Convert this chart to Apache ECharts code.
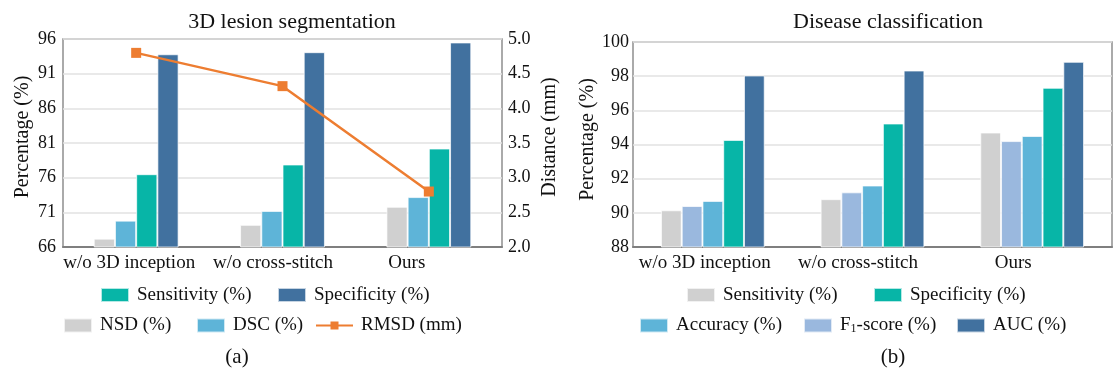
<!DOCTYPE html>
<html>
<head>
<meta charset="utf-8">
<script src="https://cdn.jsdelivr.net/npm/echarts@6/dist/echarts.min.js"></script>
<style>html,body{margin:0;padding:0;background:#fff}#c{width:1113px;height:371px}</style>
</head>
<body>
<div id="c"></div>
<script>
// ---- data ----
const categories = ['w/o 3D inception', 'w/o cross-stitch', 'Ours'];
// (a) 3D lesion segmentation
const segNSD = [67.2, 69.2, 71.8];
const segDSC = [69.8, 71.2, 73.2];
const segSensitivity = [76.5, 77.9, 80.2];
const segSpecificity = [93.8, 94.1, 95.5];
const segRMSD = [4.80, 4.32, 2.80];
// (b) Disease classification
const clsSensitivity = [90.15, 90.8, 94.7];
const clsF1 = [90.4, 91.2, 94.2];
const clsAccuracy = [90.7, 91.6, 94.5];
const clsSpecificity = [94.27, 95.23, 97.32];
const clsAUC = [98.04, 98.33, 98.84];

const FONT = 'Liberation Serif';
const C = {gray:'#D0D0D0', sky:'#5EB4D8', teal:'#07B5A7', navy:'#41719F', peri:'#9AB8DE', orange:'#ED7D31'};

const chart = echarts.init(document.getElementById('c'), null, {renderer:'canvas'});

function bar(name, data, color, xi, yi, gap){
  return {type:'bar', name, data, xAxisIndex:xi, yAxisIndex:yi, barGap:'0%', barCategoryGap:gap,
    itemStyle:{color, borderColor:'rgba(255,255,255,0.7)', borderWidth:1}, animation:false};
}
const legendDefs = [
  {name:'a:Sensitivity (%)', left:100, top:285.5},
  {name:'a:Specificity (%)', left:277, top:285.5},
  {name:'a:NSD (%)', left:63, top:316},
  {name:'a:DSC (%)', left:196, top:316},
  {name:'a:RMSD (mm)', left:315, top:316, w:37, h:10, line:true},
  {name:'b:Sensitivity (%)', left:686, top:285.5},
  {name:'b:Specificity (%)', left:873, top:285.5},
  {name:'b:Accuracy (%)', left:639, top:316},
  {name:'b:F1-score (%)', left:803, top:316},
  {name:'b:AUC (%)', left:956, top:316}
];
const legends = legendDefs.map(d => {
  const l = {
    data:[d.name], left:d.left, top:d.top, padding:0, itemWidth:d.w||28, itemHeight:d.h||14,
    textStyle:{fontFamily:FONT, fontSize:19, color:'#111', padding:[0,0,0,3],
      rich:{a:{fontFamily:FONT, fontSize:19, color:'#111'}, sub:{fontFamily:FONT, fontSize:12, color:'#111', padding:[7,0,0,0]}}},
    formatter: n => { const s = n.slice(2); return s.startsWith('F1') ? '{a|F}{sub|1}{a|' + s.slice(2) + '}' : s; },
    selectedMode:false
  };
  if (!d.line) l.icon = 'rect';
  return l;
});

const axisLabel = {fontFamily:FONT, fontSize:18, color:'#111'};
const nameStyle = {fontFamily:FONT, fontSize:20, color:'#111'};
const splitLine = {show:true, lineStyle:{color:'#e2e2e2', width:1.5}};
function catLabel(pads){
  const rich = {};
  pads.forEach((p, i) => { rich['c' + i] = {fontFamily:FONT, fontSize:19, color:'#111', padding:[0, p, 0, 0]}; });
  return {interval:0, margin:7, fontFamily:FONT, fontSize:19, color:'#111', rich,
    formatter:(v, i) => '{c' + i + '|' + v + '}'};
}

chart.setOption({
  animation:false,
  title:[
    {text:'3D lesion segmentation', left:287, top:6, textAlign:'center', textStyle:{fontFamily:FONT, fontSize:22, fontWeight:'normal', color:'#111'}},
    {text:'Disease classification', left:883, top:6, textAlign:'center', textStyle:{fontFamily:FONT, fontSize:22, fontWeight:'normal', color:'#111'}},
    {text:'(a)', left:232, top:342, textAlign:'center', textStyle:{fontFamily:FONT, fontSize:21, fontWeight:'normal', color:'#111'}},
    {text:'(b)', left:888, top:342, textAlign:'center', textStyle:{fontFamily:FONT, fontSize:21, fontWeight:'normal', color:'#111'}}
  ],
  legend: legends,
  grid:[
    {left:63, top:39, width:439, height:208, show:true, borderColor:'#8f8f8f', borderWidth:1.5, containLabel:false},
    {left:633, top:42, width:479, height:205, show:true, borderColor:'#8f8f8f', borderWidth:1.5, containLabel:false}
  ],
  xAxis:[
    {type:'category', gridIndex:0, data:categories, axisTick:{show:false},
      axisLine:{lineStyle:{color:'#7f7f7f', width:2}}, axisLabel:catLabel([14, 19, 44])},
    {type:'category', gridIndex:1, data:categories, axisTick:{show:false},
      axisLine:{lineStyle:{color:'#7f7f7f', width:2}}, axisLabel:catLabel([16, 29, 38])}
  ],
  yAxis:[
    {type:'value', gridIndex:0, min:66, max:96, interval:5, splitLine, axisLine:{show:false},
      axisLabel:{...axisLabel, margin:7}, name:'Percentage (%)', nameLocation:'middle', nameGap:30, nameRotate:90, nameTextStyle:{...nameStyle, padding:[0,0,0,12]}},
    {type:'value', gridIndex:0, position:'right', min:2, max:5, interval:0.5, splitLine:{show:false}, axisLine:{show:false},
      axisLabel:{...axisLabel, margin:6, formatter:v => v.toFixed(1)}, name:'Distance (mm)', nameLocation:'middle', nameGap:38, nameRotate:90, nameTextStyle:{...nameStyle, padding:[0,0,0,12]}},
    {type:'value', gridIndex:1, min:88, max:100, interval:2, splitLine, axisLine:{show:false},
      axisLabel:{...axisLabel, margin:4}, name:'Percentage (%)', nameLocation:'middle', nameGap:34, nameRotate:90, nameTextStyle:{...nameStyle, padding:[0,0,0,10]}}
  ],
  series:[
    bar('a:NSD (%)', segNSD, C.gray, 0, 0, '42%'),
    bar('a:DSC (%)', segDSC, C.sky, 0, 0, '42%'),
    bar('a:Sensitivity (%)', segSensitivity, C.teal, 0, 0, '42%'),
    bar('a:Specificity (%)', segSpecificity, C.navy, 0, 0, '42%'),
    {type:'line', name:'a:RMSD (mm)', data:segRMSD, xAxisIndex:0, yAxisIndex:1, z:5,
      symbol:'rect', symbolSize:10, itemStyle:{color:C.orange}, lineStyle:{color:C.orange, width:2.5}},
    bar('b:Sensitivity (%)', clsSensitivity, C.gray, 1, 2, '35%'),
    bar('b:F1-score (%)', clsF1, C.peri, 1, 2, '35%'),
    bar('b:Accuracy (%)', clsAccuracy, C.sky, 1, 2, '35%'),
    bar('b:Specificity (%)', clsSpecificity, C.teal, 1, 2, '35%'),
    bar('b:AUC (%)', clsAUC, C.navy, 1, 2, '35%')
  ]
});
</script>
</body>
</html>
